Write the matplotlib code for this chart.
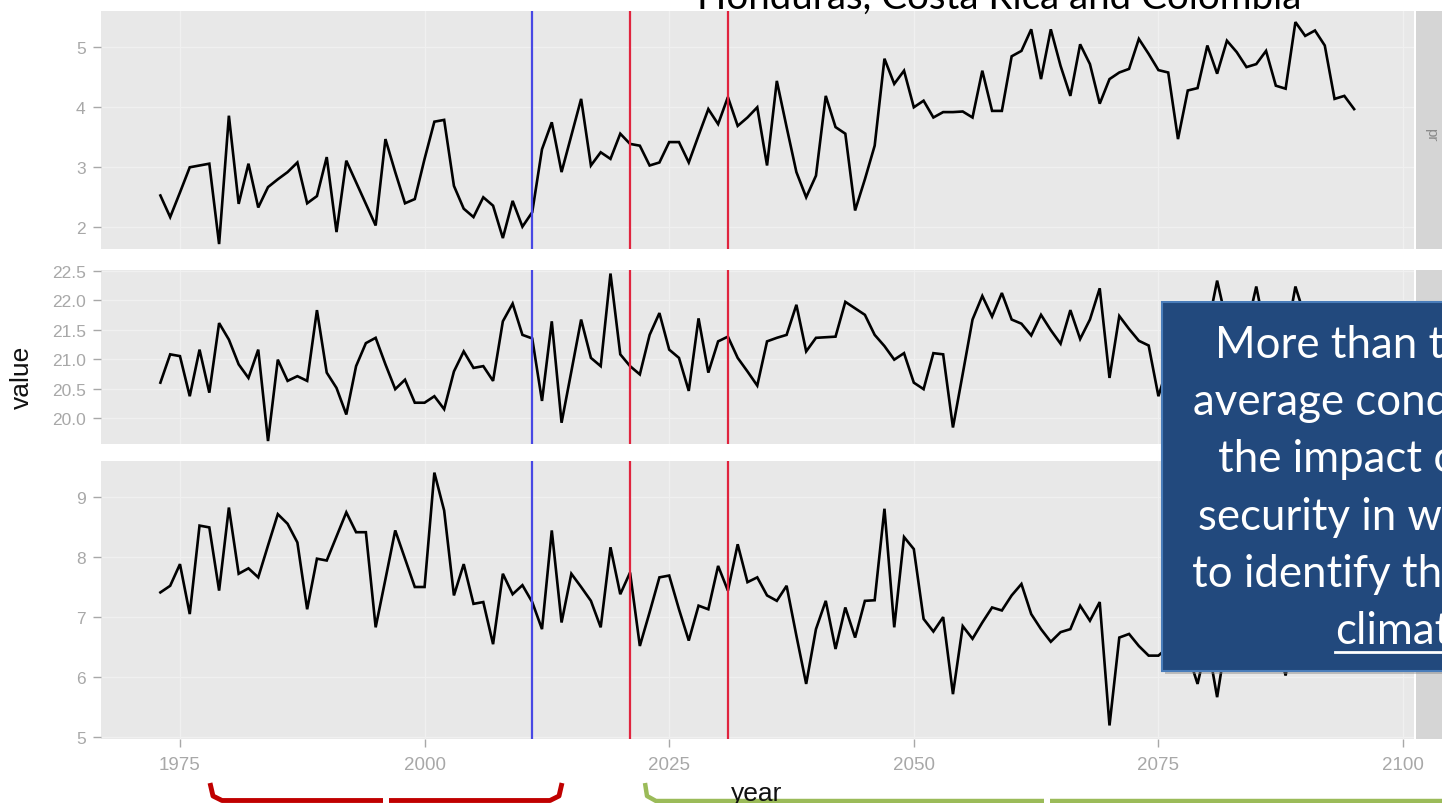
import numpy as np
import matplotlib
matplotlib.use("Agg")
import matplotlib.pyplot as plt
from matplotlib.patches import Rectangle
from matplotlib.lines import Line2D

# ---------------- data ----------------
years = list(range(1973, 2096))

pr = [2.53, 2.17, 2.58, 3.00, 3.03, 3.06, 1.72, 3.86, 2.39, 3.06,
      2.33, 2.67, 2.80, 2.92, 3.08, 2.40, 2.52, 3.17, 1.92, 3.11,
      2.75, 2.39, 2.03, 3.47, 2.92, 2.40, 2.47, 3.14, 3.76, 3.79,
      2.69, 2.31, 2.17, 2.50, 2.36, 1.82, 2.44, 2.01, 2.25, 3.30,
      3.75, 2.92, 3.53, 4.14, 3.03, 3.25, 3.14, 3.56, 3.39, 3.36,
      3.03, 3.08, 3.42, 3.42, 3.08, 3.53, 3.97, 3.72, 4.17, 3.69,
      3.83, 4.00, 3.03, 4.44, 3.67, 2.92, 2.50, 2.86, 4.19, 3.67,
      3.56, 2.28, 2.80, 3.36, 4.81, 4.39, 4.61, 4.00, 4.11, 3.83,
      3.92, 3.92, 3.93, 3.83, 4.61, 3.94, 3.94, 4.85, 4.94, 5.30,
      4.47, 5.30, 4.69, 4.19, 5.05, 4.72, 4.06, 4.47, 4.58, 4.64,
      5.14, 4.89, 4.62, 4.58, 3.47, 4.28, 4.32, 5.03, 4.56, 5.11,
      4.92, 4.67, 4.72, 4.94, 4.36, 4.31, 5.42, 5.19, 5.28, 5.03,
      4.14, 4.19, 3.97]

tmean = [20.60, 21.08, 21.05, 20.37, 21.16, 20.43, 21.61, 21.33, 20.91, 20.68,
         21.16, 19.61, 20.99, 20.63, 20.71, 20.63, 21.83, 20.77, 20.51, 20.06,
         20.88, 21.27, 21.36, 20.91, 20.49, 20.65, 20.26, 20.26, 20.37, 20.15,
         20.79, 21.13, 20.85, 20.88, 20.63, 21.64, 21.94, 21.41, 21.35, 20.29,
         21.64, 19.92, 20.79, 21.67, 21.02, 20.88, 22.45, 21.08, 20.88, 20.74,
         21.41, 21.78, 21.16, 21.02, 20.46, 21.69, 20.77, 21.30, 21.38, 21.02,
         20.79, 20.55, 21.30, 21.36, 21.41, 21.92, 21.13, 21.36, 21.37, 21.38,
         21.97, 21.86, 21.75, 21.41, 21.22, 20.99, 21.10, 20.60, 20.49, 21.10,
         21.08, 19.84, 20.75, 21.67, 22.07, 21.72, 22.12, 21.67, 21.60, 21.40,
         21.75, 21.49, 21.26, 21.83, 21.34, 21.67, 22.20, 20.68, 21.73, 21.51,
         21.31, 21.23, 20.37, 20.90, 21.40, 21.20, 21.60, 21.50, 22.33, 21.60,
         21.30, 21.50, 22.23, 21.40, 21.60, 21.30, 22.23, 21.70, 21.40, 21.60,
         21.20, 21.50, 21.30]

third = [7.41, 7.52, 7.88, 7.05, 8.52, 8.49, 7.44, 8.82, 7.72, 7.81,
         7.66, 8.19, 8.71, 8.55, 8.24, 7.13, 7.97, 7.94, 8.34, 8.74,
         8.41, 8.41, 6.83, 7.63, 8.44, 7.97, 7.50, 7.50, 9.40, 8.77,
         7.36, 7.88, 7.22, 7.25, 6.55, 7.72, 7.38, 7.53, 7.25, 6.80,
         8.44, 6.91, 7.72, 7.50, 7.27, 6.83, 8.16, 7.38, 7.74, 6.52,
         7.08, 7.66, 7.69, 7.13, 6.61, 7.19, 7.13, 7.85, 7.44, 8.21,
         7.58, 7.66, 7.36, 7.27, 7.52, 6.69, 5.89, 6.80, 7.27, 6.47,
         7.16, 6.66, 7.27, 7.28, 8.80, 6.83, 8.33, 8.13, 6.97, 6.76,
         7.00, 5.72, 6.85, 6.64, 6.91, 7.16, 7.11, 7.36, 7.55, 7.05,
         6.80, 6.59, 6.75, 6.80, 7.19, 6.94, 7.25, 5.20, 6.66, 6.72,
         6.52, 6.36, 6.36, 6.50, 6.80, 6.40, 5.89, 6.60, 5.67, 6.70,
         6.90, 6.50, 6.80, 6.40, 6.60, 6.03, 6.90, 6.60, 6.40, 6.70,
         6.50, 6.30, 6.60]

vline_years = [2011, 2021, 2031]
vline_colors = ["#4848E4", "#E0243E", "#E0243E"]

x_ticks = [1975, 2000, 2025, 2050, 2075, 2100]
pr_ticks = [2, 3, 4, 5]
tmean_ticks = [20.0, 20.5, 21.0, 21.5, 22.0, 22.5]
tmean_labels = ["20.0", "20.5", "21.0", "21.5", "22.0", "22.5"]
third_ticks = [5, 6, 7, 8, 9]

title = "Honduras, Costa Rica and Colombia"
box_lines = ["More than the", "average conditions,", "the impact on food",
             "security in which", "to identify the", "climate"]

# ---------------- layout ----------------
W, H = 1442, 804
fig = plt.figure(figsize=(W / 100, H / 100), dpi=100)
fig.patch.set_facecolor("white")


def rect(x0, y0, x1, y1):
    return [x0 / W, 1 - y1 / H, (x1 - x0) / W, (y1 - y0) / H]


def fx(x):
    return x / W


def fy(y):
    return 1 - y / H


XL = (1966.93, 2101.12)
panels = [
    (pr, (12, 250), (1.638, 5.605), pr_ticks, [str(t) for t in pr_ticks], "pr"),
    (tmean, (271, 445), (19.56, 22.51), tmean_ticks, tmean_labels, ""),
    (third, (462, 740), (4.975, 9.593), third_ticks, [str(t) for t in third_ticks], ""),
]

tick_col = "#A8A8A8"
axes = []
for i, (vals, (y0, y1), yl, yt, ytl, strip) in enumerate(panels):
    ax = fig.add_axes(rect(101, y0, 1414, y1))
    ax.set_facecolor("#E8E8E8")
    for s in ax.spines.values():
        s.set_visible(False)
    ax.set_xlim(*XL)
    ax.set_ylim(*yl)
    ax.set_xticks(x_ticks)
    ax.set_yticks(yt)
    ax.set_yticklabels(ytl, fontsize=12.5, color=tick_col, family="Liberation Sans")
    ax.grid(True, color="#F0F0F0", linewidth=0.9)
    ax.set_axisbelow(True)
    ax.tick_params(axis="y", length=6, width=1, color=tick_col, pad=5)
    if i < 2:
        ax.tick_params(axis="x", length=0, labelbottom=False)
    else:
        ax.set_xticklabels([str(t) for t in x_ticks], fontsize=13.5,
                           color=tick_col, family="Liberation Sans")
        ax.tick_params(axis="x", length=6, width=1, color=tick_col, pad=6)
    ax.plot(years, vals, color="black", linewidth=1.9, zorder=3, solid_joinstyle="miter")
    for vy, vc in zip(vline_years, vline_colors):
        ax.axvline(vy, color=vc, linewidth=1.6, zorder=4)
    # facet strip at right
    fig.patches.append(Rectangle((fx(1416), fy(y1)), fx(60), (y1 - y0) / H,
                                 transform=fig.transFigure, facecolor="#D5D5D5",
                                 edgecolor="none", zorder=0))
    if strip:
        fig.text(fx(1431), fy(135), strip, rotation=-90, ha="center", va="center",
                 fontsize=11, color="#8A8A8A", family="Liberation Sans")
    axes.append(ax)

# axis titles
fig.text(fx(22), fy(377), "value", rotation=90, ha="center", va="center",
         fontsize=19, family="Liberation Sans", color="#111111")
fig.text(fx(757), fy(801), "year", ha="center", va="baseline",
         fontsize=19, family="Liberation Sans", color="#111111")

# title (mostly cut off at top)
t = fig.text(fx(697), fy(9), title, ha="left", va="baseline", fontsize=30,
             family="Lato", color="black")
fig.canvas.draw()
bb = t.get_window_extent()
t.set_fontsize(30 * 603.0 / bb.width)

# blue callout box
fig.patches.append(Rectangle((fx(1165), fy(675)), fx(400), (675 - 306) / H,
                             transform=fig.transFigure, facecolor="#888888",
                             alpha=0.45, edgecolor="none", zorder=5))
fig.patches.append(Rectangle((fx(1162), fy(672)), fx(400), (672 - 303) / H,
                             transform=fig.transFigure, facecolor="#22497D",
                             edgecolor="#4A7DBA", linewidth=1.5, zorder=6))
line_x = [1215, 1193, 1218, 1198, 1192, 1335]
line_base = [358, 415, 472, 530, 587, 644]
for s, lx, lb in zip(box_lines, line_x, line_base):
    fig.text(fx(lx), fy(lb), s, ha="left", va="baseline", fontsize=31.5,
             family="Lato", color="white", zorder=7)
fig.lines.append(Line2D([fx(1335), fx(1460)], [fy(653), fy(653)],
                        transform=fig.transFigure, color="white", linewidth=2, zorder=7))

# bottom brackets
red = "#C00000"
fig.lines.append(Line2D([fx(210), fx(213), fx(222), fx(383)],
                        [fy(784), fy(797), fy(801.5), fy(801.5)],
                        transform=fig.transFigure, color=red, linewidth=3.5,
                        solid_capstyle="butt"))
fig.lines.append(Line2D([fx(389), fx(550), fx(559), fx(562)],
                        [fy(801.5), fy(801.5), fy(797), fy(784)],
                        transform=fig.transFigure, color=red, linewidth=3.5,
                        solid_capstyle="butt"))
green = "#9BBB59"
fig.lines.append(Line2D([fx(645), fx(647), fx(656), fx(1044)],
                        [fy(784), fy(797), fy(802), fy(802)],
                        transform=fig.transFigure, color=green, linewidth=3.2,
                        solid_capstyle="butt"))
fig.lines.append(Line2D([fx(1050), fx(1450)], [fy(802), fy(802)],
                        transform=fig.transFigure, color=green, linewidth=3.2,
                        solid_capstyle="butt"))

fig.savefig("out.png", dpi=100)
